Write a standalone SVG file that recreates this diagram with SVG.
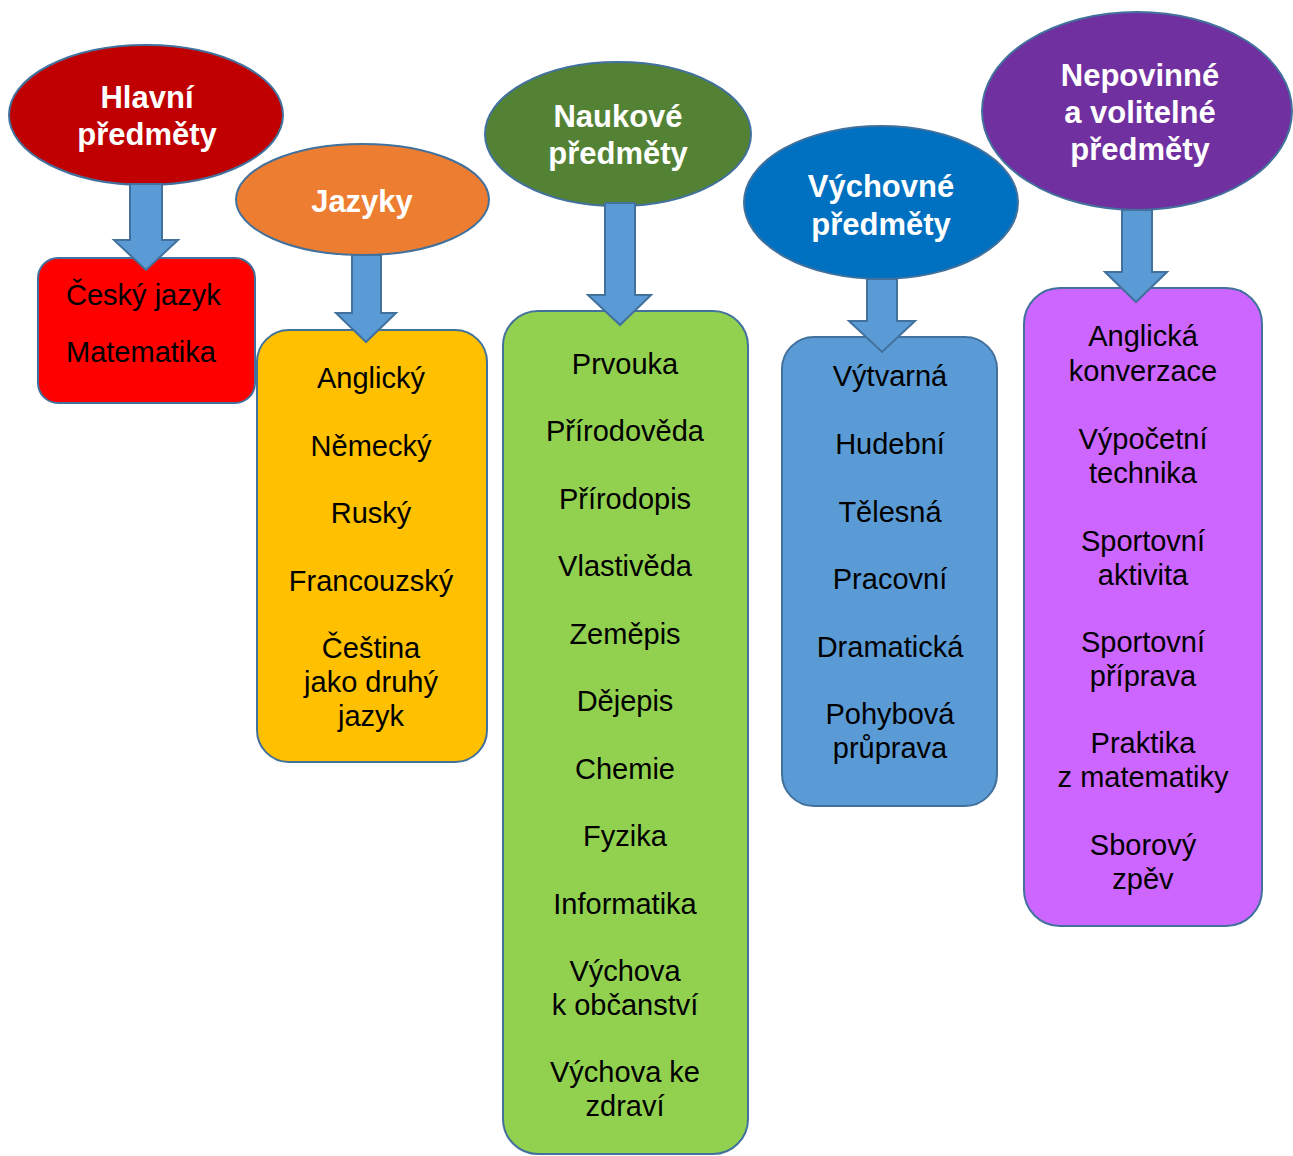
<svg xmlns="http://www.w3.org/2000/svg" width="1293" height="1156" viewBox="0 0 1293 1156">
<style>
.shape{stroke:#41719C;stroke-width:2}
.title{font-family:"Liberation Sans",Arial,sans-serif;font-weight:bold;font-size:31px;fill:#FFFFFF;text-anchor:middle}
.item{font-family:"Liberation Sans",Arial,sans-serif;font-size:29px;fill:#000000;text-anchor:middle}
.arrow{fill:#5B9BD5;stroke:#41719C;stroke-width:2;stroke-linejoin:miter}
</style>
<rect width="1293" height="1156" fill="#FFFFFF"/>
<g id="hlavni">
<ellipse class="shape" cx="146" cy="115" rx="137" ry="70" fill="#C00000"/>
<text class="title" x="147" y="108">Hlavní</text>
<text class="title" x="147" y="145">předměty</text>
</g>
<g id="hlavni-box">
<rect class="shape" x="38" y="258" width="217" height="145" rx="20" fill="#FF0000"/>
<text class="item" x="66" y="305" style="text-anchor:start">Český jazyk</text>
<text class="item" x="66" y="362" style="text-anchor:start">Matematika</text>
</g>
<g id="jazyky">
<ellipse class="shape" cx="362.5" cy="199.5" rx="126.5" ry="55.5" fill="#ED7D31"/>
<text class="title" x="362" y="212">Jazyky</text>
</g>
<g id="jazyky-box">
<rect class="shape" x="257" y="330" width="230" height="432" rx="32" fill="#FFC000"/>
<text class="item" x="371" y="388">Anglický</text>
<text class="item" x="371" y="456">Německý</text>
<text class="item" x="371" y="523">Ruský</text>
<text class="item" x="371" y="591">Francouzský</text>
<text class="item" x="371" y="658">Čeština</text>
<text class="item" x="371" y="692">jako druhý</text>
<text class="item" x="371" y="726">jazyk</text>
</g>
<g id="naukove">
<ellipse class="shape" cx="618" cy="134" rx="133" ry="72" fill="#548235"/>
<text class="title" x="618" y="127">Naukové</text>
<text class="title" x="618" y="164">předměty</text>
</g>
<g id="naukove-box">
<rect class="shape" x="503" y="311" width="245" height="843" rx="35" fill="#92D050"/>
<text class="item" x="625" y="374">Prvouka</text>
<text class="item" x="625" y="441">Přírodověda</text>
<text class="item" x="625" y="509">Přírodopis</text>
<text class="item" x="625" y="576">Vlastivěda</text>
<text class="item" x="625" y="644">Zeměpis</text>
<text class="item" x="625" y="711">Dějepis</text>
<text class="item" x="625" y="779">Chemie</text>
<text class="item" x="625" y="846">Fyzika</text>
<text class="item" x="625" y="914">Informatika</text>
<text class="item" x="625" y="981">Výchova</text>
<text class="item" x="625" y="1015">k občanství</text>
<text class="item" x="625" y="1082">Výchova ke</text>
<text class="item" x="625" y="1116">zdraví</text>
</g>
<g id="vychovne">
<ellipse class="shape" cx="881" cy="202.5" rx="137" ry="76.5" fill="#0070C0"/>
<text class="title" x="881" y="197">Výchovné</text>
<text class="title" x="881" y="235">předměty</text>
</g>
<g id="vychovne-box">
<rect class="shape" x="782" y="337" width="215" height="469" rx="32" fill="#5B9BD5"/>
<text class="item" x="890" y="386">Výtvarná</text>
<text class="item" x="890" y="454">Hudební</text>
<text class="item" x="890" y="522">Tělesná</text>
<text class="item" x="890" y="589">Pracovní</text>
<text class="item" x="890" y="657">Dramatická</text>
<text class="item" x="890" y="724">Pohybová</text>
<text class="item" x="890" y="758">průprava</text>
</g>
<g id="nepovinne">
<ellipse class="shape" cx="1137" cy="111" rx="155" ry="99" fill="#7030A0"/>
<text class="title" x="1140" y="86">Nepovinné</text>
<text class="title" x="1140" y="123">a volitelné</text>
<text class="title" x="1140" y="160">předměty</text>
</g>
<g id="nepovinne-box">
<rect class="shape" x="1024" y="288" width="238" height="638" rx="36" fill="#CC66FF"/>
<text class="item" x="1143" y="346">Anglická</text>
<text class="item" x="1143" y="381">konverzace</text>
<text class="item" x="1143" y="449">Výpočetní</text>
<text class="item" x="1143" y="483">technika</text>
<text class="item" x="1143" y="551">Sportovní</text>
<text class="item" x="1143" y="585">aktivita</text>
<text class="item" x="1143" y="652">Sportovní</text>
<text class="item" x="1143" y="686">příprava</text>
<text class="item" x="1143" y="753">Praktika</text>
<text class="item" x="1143" y="787">z matematiky</text>
<text class="item" x="1143" y="855">Sborový</text>
<text class="item" x="1143" y="889">zpěv</text>
</g>
<g id="connectors">
<polygon class="arrow" points="130,184 162,184 162,240 178,240 146,270 114,240 130,240"/>
<polygon class="arrow" points="352,255 381,255 381,313 396,313 366,342 336,313 352,313"/>
<polygon class="arrow" points="605,203 635,203 635,295 651,295 620,325 588,295 605,295"/>
<polygon class="arrow" points="867,279 897,279 897,321 915,321 882,352 849,321 867,321"/>
<polygon class="arrow" points="1122,210 1152,210 1152,272 1167,272 1136,302 1105,272 1122,272"/>
</g>
</svg>
